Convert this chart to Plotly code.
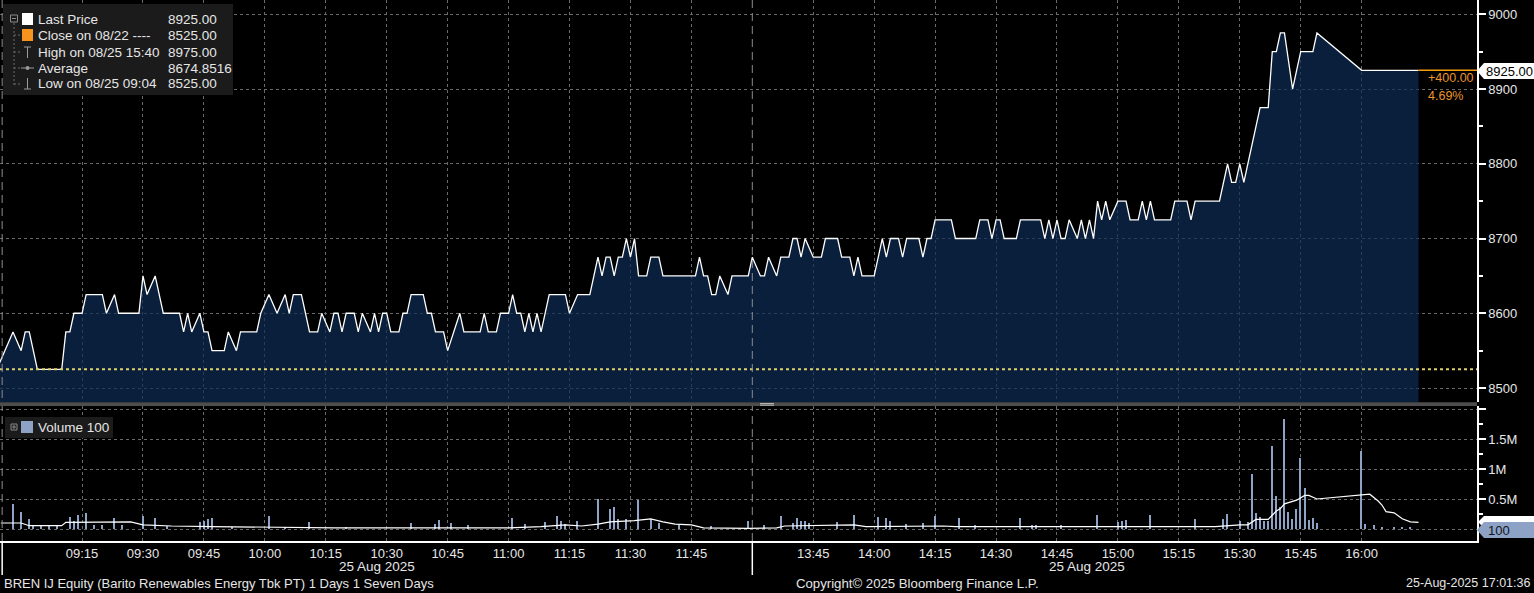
import plotly.graph_objects as go
import pandas as pd

DAY = "2025-08-25 "

# price line (minute closes) - time, price
price_times = [
    "08:54", "08:58", "09:00", "09:01", "09:02", "09:04", "09:10", "09:11", "09:12", "09:13",
    "09:15", "09:16", "09:20", "09:21", "09:23", "09:24", "09:29", "09:30", "09:31", "09:33",
    "09:35", "09:39", "09:40", "09:41", "09:42", "09:44", "09:45", "09:46", "09:47", "09:50",
    "09:51", "09:53", "09:54", "09:58", "09:59", "10:01", "10:03", "10:05", "10:06", "10:07",
    "10:09", "10:11", "10:13", "10:14", "10:16", "10:17", "10:18", "10:19", "10:20", "10:22",
    "10:23", "10:24", "10:26", "10:27", "10:28", "10:29", "10:30", "10:31", "10:33", "10:34",
    "10:35", "10:36", "10:39", "10:40", "10:41", "10:42", "10:44", "10:45", "10:48", "10:49",
    "10:53", "10:54", "10:55", "10:57", "10:58", "11:00", "11:01", "11:02", "11:03", "11:04",
    "11:05", "11:06", "11:07", "11:08", "11:10", "11:14", "11:15", "11:17", "11:20", "11:22",
    "11:23", "11:24", "11:25", "11:26", "11:27", "11:28", "11:29", "11:30", "11:31", "11:32",
    "11:34", "11:35", "11:37", "11:38", "11:46", "11:47", "11:48", "11:49", "11:50", "11:51",
    "11:52", "11:54", "11:55", "11:59",
    "13:30", "13:32", "13:33", "13:34", "13:36", "13:37", "13:39", "13:40", "13:41", "13:42",
    "13:43", "13:45", "13:47", "13:48", "13:51", "13:52", "13:54", "13:55", "13:56", "13:57",
    "14:00", "14:02", "14:03", "14:04", "14:06", "14:07", "14:08", "14:11", "14:12", "14:13",
    "14:14", "14:15", "14:19", "14:20", "14:25", "14:26", "14:28", "14:29", "14:30", "14:31",
    "14:32", "14:35", "14:36", "14:41", "14:42", "14:43", "14:44", "14:45", "14:46", "14:47",
    "14:48", "14:50", "14:51", "14:52", "14:53", "14:54", "14:55", "14:56", "14:57", "14:58",
    "15:00", "15:02", "15:03", "15:05", "15:06", "15:07", "15:08", "15:09", "15:13", "15:14",
    "15:17", "15:18", "15:19", "15:25", "15:27", "15:28", "15:29", "15:30", "15:31", "15:35",
    "15:37", "15:38", "15:39", "15:40", "15:41", "15:43", "15:45", "15:48", "15:49", "16:00",
    "16:14",
]
price_values = [
    8525, 8575, 8550, 8575, 8575, 8525, 8525, 8575, 8575, 8600,
    8600, 8625, 8625, 8600, 8625, 8600, 8600, 8650, 8625, 8650,
    8600, 8600, 8575, 8600, 8575, 8600, 8575, 8575, 8550, 8550,
    8575, 8550, 8575, 8575, 8600, 8625, 8600, 8625, 8600, 8625,
    8625, 8575, 8575, 8600, 8575, 8600, 8600, 8575, 8600, 8600,
    8575, 8600, 8575, 8600, 8575, 8600, 8600, 8575, 8575, 8600,
    8600, 8625, 8625, 8600, 8600, 8575, 8575, 8550, 8600, 8575,
    8575, 8600, 8575, 8575, 8600, 8600, 8625, 8600, 8600, 8575,
    8600, 8575, 8600, 8575, 8625, 8625, 8600, 8625, 8625, 8675,
    8650, 8675, 8675, 8650, 8675, 8675, 8700, 8675, 8700, 8650,
    8650, 8675, 8675, 8650, 8650, 8675, 8650, 8650, 8625, 8625,
    8650, 8625, 8650, 8650,
    8675, 8650, 8650, 8675, 8650, 8675, 8675, 8700, 8700, 8675,
    8700, 8675, 8675, 8700, 8700, 8675, 8675, 8650, 8675, 8650,
    8650, 8700, 8675, 8700, 8700, 8675, 8700, 8700, 8675, 8700,
    8700, 8725, 8725, 8700, 8700, 8725, 8725, 8700, 8725, 8725,
    8700, 8700, 8725, 8725, 8700, 8725, 8700, 8725, 8700, 8700,
    8725, 8700, 8725, 8700, 8725, 8700, 8750, 8725, 8750, 8725,
    8750, 8750, 8725, 8725, 8750, 8725, 8750, 8725, 8725, 8750,
    8750, 8725, 8750, 8750, 8800, 8775, 8775, 8800, 8775, 8875,
    8875, 8950, 8950, 8975, 8975, 8900, 8950, 8950, 8975, 8925,
    8925,
]

# volume bars (millions of shares)
vol_times = [
    "08:58", "09:00", "09:02", "09:03", "09:05", "09:07", "09:09", "09:12", "09:13", "09:14",
    "09:16", "09:18", "09:20", "09:23", "09:25", "09:30", "09:33", "09:36", "09:44", "09:45",
    "09:46", "09:47", "09:52", "10:01", "10:05", "10:11", "10:20", "10:36", "10:42", "10:43",
    "10:46", "10:50", "11:01", "11:04", "11:09", "11:12", "11:13", "11:14", "11:17", "11:22",
    "11:25", "11:26", "11:27", "11:29", "11:32", "11:35", "11:37", "11:42", "11:50", "11:59",
    "13:33", "13:37", "13:40", "13:41", "13:42", "13:43", "13:44", "13:51", "13:55", "14:01",
    "14:03", "14:04", "14:08", "14:12", "14:15", "14:21", "14:25", "14:36", "14:39", "14:40",
    "14:46", "14:55", "15:00", "15:01", "15:02", "15:08", "15:19", "15:26", "15:27", "15:30",
    "15:32", "15:33", "15:34", "15:35", "15:36", "15:37", "15:38", "15:39", "15:40", "15:41",
    "15:42", "15:43", "15:44", "15:45", "15:46", "15:47", "15:48", "15:49", "16:00", "16:01",
    "16:03", "16:05", "16:08", "16:10", "16:12",
]
vol_values = [
    0.41, 0.28, 0.17, 0.07, 0.06, 0.06, 0.06, 0.20, 0.14, 0.23,
    0.26, 0.07, 0.07, 0.19, 0.06, 0.22, 0.18, 0.05, 0.12, 0.14,
    0.17, 0.18, 0.04, 0.21, 0.04, 0.12, 0.03, 0.10, 0.08, 0.15,
    0.10, 0.06, 0.19, 0.09, 0.11, 0.22, 0.13, 0.09, 0.13, 0.50,
    0.33, 0.37, 0.17, 0.17, 0.49, 0.17, 0.10, 0.06, 0.05, 0.14,
    0.07, 0.22, 0.10, 0.18, 0.14, 0.14, 0.10, 0.12, 0.23, 0.20,
    0.19, 0.13, 0.09, 0.10, 0.21, 0.19, 0.07, 0.18, 0.07, 0.07,
    0.07, 0.23, 0.12, 0.13, 0.15, 0.23, 0.17, 0.17, 0.25, 0.14,
    0.12, 0.92, 0.27, 0.20, 0.13, 0.13, 1.38, 0.55, 0.36, 1.84,
    0.29, 0.17, 0.34, 1.18, 0.68, 0.15, 0.19, 0.10, 1.30, 0.09,
    0.07, 0.04, 0.02, 0.02, 0.02,
]

# volume average line (millions)
avg_times = [
    "08:55", "09:00", "09:02", "09:10", "09:11", "09:15", "09:17", "09:27", "09:30", "09:37",
    "09:47", "10:00", "10:17", "11:00", "11:08", "11:14", "11:18", "11:22", "11:25", "11:31",
    "11:35", "11:38", "11:41", "11:45", "11:48", "11:59", "13:36", "13:38", "13:50", "13:55",
    "13:58", "14:11", "14:17", "14:20", "15:24", "15:30", "15:32", "15:34", "15:37", "15:39",
    "15:40", "15:41", "15:44", "15:46", "15:47", "15:49", "16:02", "16:04", "16:05", "16:06",
    "16:08", "16:10", "16:12", "16:14",
]
avg_values = [
    0.10, 0.10, 0.055, 0.055, 0.11, 0.11, 0.12, 0.12, 0.07, 0.05,
    0.04, 0.03, 0.02, 0.02, 0.04, 0.07, 0.05, 0.08, 0.12, 0.14,
    0.17, 0.12, 0.08, 0.07, 0.02, 0.01, 0.02, 0.05, 0.07, 0.07,
    0.04, 0.05, 0.05, 0.04, 0.04, 0.07, 0.07, 0.16, 0.16, 0.30,
    0.34, 0.42, 0.48, 0.56, 0.56, 0.50, 0.58, 0.47, 0.40, 0.29,
    0.27, 0.17, 0.12, 0.11,
]

tick_labels = [
    "09:15", "09:30", "09:45", "10:00", "10:15", "10:30", "10:45", "11:00", "11:15", "11:30",
    "11:45", "13:45", "14:00", "14:15", "14:30", "14:45", "15:00", "15:15", "15:30", "15:45",
    "16:00",
]
session_starts = ["08:55:20", "13:30"]

last_price = 8925.00
prev_close = 8525.00
high_price = 8975.00
avg_price = "8674.8516"
low_price = 8525.00
net_change = "+400.00"
pct_change = "4.69%"
last_volume = "100"


def ts(t):
    return pd.to_datetime(DAY + t)


# pixel helpers for the plot area (0..1477 x 0..541)
PW, PH = 1477.0, 541.0


def fx(p):
    return p / PW


def fy(p):
    return (PH - p) / PH


FONT = "Liberation Sans, Arial, sans-serif"
TXT = "#e6e6e6"
GRID = "#6a6a6a"

fig = go.Figure()

fig.add_trace(go.Scatter(
    x=[ts(t) for t in price_times], y=price_values,
    mode="lines", line=dict(color="white", width=1.3),
    fill="tozeroy", fillcolor="rgba(13,44,86,0.7)",
    xaxis="x", yaxis="y", hoverinfo="skip",
))
fig.add_trace(go.Bar(
    x=[ts(t) for t in vol_times], y=[v * 1e6 for v in vol_values],
    marker=dict(color="#8ea2c6", line=dict(width=0)), width=22000,
    xaxis="x", yaxis="y2", hoverinfo="skip",
))
fig.add_trace(go.Scatter(
    x=[ts(t) for t in avg_times], y=[v * 1e6 for v in avg_values],
    mode="lines", line=dict(color="white", width=1.2),
    xaxis="x", yaxis="y2", hoverinfo="skip",
))

shapes = []
ann = []

# previous close dotted line
shapes.append(dict(type="line", xref="paper", yref="y", x0=0, x1=1, y0=prev_close, y1=prev_close,
                   line=dict(color="#dccf6c", width=2, dash="dot")))
# last price extension line
shapes.append(dict(type="line", xref="x", yref="y", x0=ts(price_times[-1]), x1=ts("16:28:24"),
                   y0=last_price, y1=last_price, line=dict(color="#f39c12", width=1.5)))
# session boundary markers
for s in session_starts:
    shapes.append(dict(type="line", xref="x", yref="paper", x0=ts(s), x1=ts(s), y0=0, y1=1,
                       line=dict(color="#8c8c8c", width=1, dash="8px,5px")))
    shapes.append(dict(type="line", xref="x", yref="paper", x0=ts(s), x1=ts(s), y0=fy(541), y1=fy(575),
                       line=dict(color="white", width=1.5)))
# panel separator
shapes.append(dict(type="rect", xref="paper", yref="paper", x0=0, x1=1, y0=fy(406), y1=fy(402.3),
                   fillcolor="#4d4d4d", line=dict(width=0)))
for yy in (403.6, 405.2):
    shapes.append(dict(type="line", xref="paper", yref="paper", x0=fx(760), x1=fx(774), y0=fy(yy), y1=fy(yy),
                       line=dict(color="#bdbdbd", width=1)))

# price legend box
shapes.append(dict(type="rect", xref="paper", yref="paper", x0=fx(3), x1=fx(233), y0=fy(95), y1=fy(4),
                   fillcolor="#1b1b1b", line=dict(width=0)))
shapes.append(dict(type="rect", xref="paper", yref="paper", x0=fx(10.5), x1=fx(17.5), y0=fy(22), y1=fy(15),
                   line=dict(color="#8a8a8a", width=1)))
shapes.append(dict(type="line", xref="paper", yref="paper", x0=fx(12), x1=fx(16), y0=fy(18.5), y1=fy(18.5),
                   line=dict(color="#8a8a8a", width=1)))
shapes.append(dict(type="line", xref="paper", yref="paper", x0=fx(14), x1=fx(14), y0=fy(23), y1=fy(85),
                   line=dict(color="#6a6a6a", width=1, dash="2px,2px")))
rows = [19, 35, 52, 68, 84]
for r in rows[1:]:
    shapes.append(dict(type="line", xref="paper", yref="paper", x0=fx(14), x1=fx(20), y0=fy(r), y1=fy(r),
                       line=dict(color="#6a6a6a", width=1, dash="2px,2px")))
shapes.append(dict(type="rect", xref="paper", yref="paper", x0=fx(22), x1=fx(33), y0=fy(25), y1=fy(13),
                   fillcolor="white", line=dict(width=0)))
shapes.append(dict(type="rect", xref="paper", yref="paper", x0=fx(22), x1=fx(33), y0=fy(41), y1=fy(29),
                   fillcolor="#f7941d", line=dict(width=0)))
# high glyph
shapes.append(dict(type="line", xref="paper", yref="paper", x0=fx(27.5), x1=fx(27.5), y0=fy(47), y1=fy(58),
                   line=dict(color="#9a9a9a", width=1)))
shapes.append(dict(type="line", xref="paper", yref="paper", x0=fx(24), x1=fx(31), y0=fy(47), y1=fy(47),
                   line=dict(color="#9a9a9a", width=1)))
# average glyph
shapes.append(dict(type="line", xref="paper", yref="paper", x0=fx(21), x1=fx(34), y0=fy(68), y1=fy(68),
                   line=dict(color="#9a9a9a", width=1)))
shapes.append(dict(type="circle", xref="paper", yref="paper", x0=fx(25.5), x1=fx(29.5), y0=fy(70), y1=fy(66),
                   fillcolor="#9a9a9a", line=dict(width=0)))
# low glyph
shapes.append(dict(type="line", xref="paper", yref="paper", x0=fx(27.5), x1=fx(27.5), y0=fy(78), y1=fy(89),
                   line=dict(color="#9a9a9a", width=1)))
shapes.append(dict(type="line", xref="paper", yref="paper", x0=fx(24), x1=fx(31), y0=fy(89), y1=fy(89),
                   line=dict(color="#9a9a9a", width=1)))

legend_rows = [
    ("Last Price", f"{last_price:.2f}"),
    ("Close on 08/22 ----", f"{prev_close:.2f}"),
    ("High on 08/25 15:40", f"{high_price:.2f}"),
    ("Average", avg_price),
    ("Low on 08/25 09:04", f"{low_price:.2f}"),
]
for (lab, val), r in zip(legend_rows, rows):
    ann.append(dict(text=lab, x=fx(36), y=fy(r), xanchor="left", yanchor="middle"))
    ann.append(dict(text=val, x=fx(166), y=fy(r), xanchor="left", yanchor="middle"))

# volume legend box
shapes.append(dict(type="rect", xref="paper", yref="paper", x0=fx(5), x1=fx(113), y0=fy(438), y1=fy(417),
                   fillcolor="#1b1b1b", line=dict(width=0)))
shapes.append(dict(type="rect", xref="paper", yref="paper", x0=fx(11), x1=fx(17), y0=fy(430), y1=fy(424),
                   line=dict(color="#8a8a8a", width=1)))
shapes.append(dict(type="line", xref="paper", yref="paper", x0=fx(12), x1=fx(16), y0=fy(427), y1=fy(427),
                   line=dict(color="#8a8a8a", width=1)))
shapes.append(dict(type="line", xref="paper", yref="paper", x0=fx(14), x1=fx(14), y0=fy(425), y1=fy(429),
                   line=dict(color="#8a8a8a", width=1)))
shapes.append(dict(type="rect", xref="paper", yref="paper", x0=fx(21), x1=fx(33), y0=fy(433), y1=fy(421),
                   fillcolor="#8ea2c6", line=dict(width=0)))
ann.append(dict(text=f"Volume {last_volume}", x=fx(36), y=fy(427), xanchor="left", yanchor="middle"))

# right side value tags
shapes.append(dict(type="path", xref="paper", yref="paper",
                   path=f"M {fx(1477)} {fy(71)} L {fx(1484)} {fy(63)} L {fx(1540)} {fy(63)} "
                        f"L {fx(1540)} {fy(79)} L {fx(1484)} {fy(79)} Z",
                   fillcolor="white", line=dict(width=0)))
ann.append(dict(text=f"{last_price:.2f}", x=fx(1484), y=fy(71.5), xanchor="left", yanchor="middle",
                font=dict(color="black", size=13, family=FONT)))
ann.append(dict(text=net_change, x=fx(1426), y=fy(78.5), xanchor="left", yanchor="middle",
                font=dict(color="#ea942c", size=12.5, family=FONT)))
ann.append(dict(text=pct_change, x=fx(1426), y=fy(95.5), xanchor="left", yanchor="middle",
                font=dict(color="#ea942c", size=12.5, family=FONT)))
shapes.append(dict(type="path", xref="paper", yref="paper",
                   path=f"M {fx(1478)} {fy(522)} L {fx(1484)} {fy(516)} L {fx(1540)} {fy(516)} "
                        f"L {fx(1540)} {fy(528)} L {fx(1484)} {fy(528)} Z",
                   fillcolor="white", line=dict(width=0)))
shapes.append(dict(type="path", xref="paper", yref="paper",
                   path=f"M {fx(1477)} {fy(530)} L {fx(1484)} {fy(522)} L {fx(1540)} {fy(522)} "
                        f"L {fx(1540)} {fy(538)} L {fx(1484)} {fy(538)} Z",
                   fillcolor="#8ea2c6", line=dict(width=0)))
ann.append(dict(text=last_volume, x=fx(1486), y=fy(530.5), xanchor="left", yanchor="middle",
                font=dict(color="#10151f", size=13, family=FONT)))

# date labels under sessions and footer
ann.append(dict(text="25 Aug 2025", x=fx(377), y=fy(566), xanchor="center", yanchor="middle"))
ann.append(dict(text="25 Aug 2025", x=fx(1087), y=fy(566), xanchor="center", yanchor="middle"))
ann.append(dict(text="BREN IJ Equity (Barito Renewables Energy Tbk PT) 1 Days 1 Seven Days",
                x=fx(2), y=fy(583), xanchor="left", yanchor="middle", font=dict(size=13, color=TXT, family=FONT)))
ann.append(dict(text="Copyright\u00a9 2025 Bloomberg Finance L.P.", x=fx(917), y=fy(583),
                xanchor="center", yanchor="middle", font=dict(size=13.2, color=TXT, family=FONT)))
ann.append(dict(text="25-Aug-2025 17:01:36", x=fx(1532), y=fy(583), xanchor="right", yanchor="middle",
                font=dict(size=12.5, color=TXT, family=FONT)))

for a in ann:
    a.setdefault("xref", "paper")
    a.setdefault("yref", "paper")
    a.setdefault("showarrow", False)
    a.setdefault("font", dict(size=13.5, color=TXT, family=FONT))

fig.update_layout(
    width=1534, height=593,
    paper_bgcolor="black", plot_bgcolor="black",
    margin=dict(l=0, r=57, t=0, b=52),
    showlegend=False, hovermode=False, bargap=0,
    font=dict(family=FONT, size=13, color=TXT),
    xaxis=dict(
        type="date", anchor="y2",
        range=[ts("08:54:48"), ts("16:28:24")],
        rangebreaks=[dict(bounds=[12, 13.5], pattern="hour")],
        tickmode="array", tickvals=[ts(t) for t in tick_labels], ticktext=tick_labels,
        showgrid=True, gridcolor=GRID, griddash="dot", gridwidth=1,
        showline=True, linecolor="white", linewidth=1.5,
        ticks="", zeroline=False,
        tickfont=dict(size=13, color=TXT, family=FONT),
    ),
    yaxis=dict(
        domain=[fy(402.3), 1], range=[8480.9, 9019.1], side="right", anchor="x",
        tickmode="linear", tick0=8500, dtick=100,
        showgrid=True, gridcolor=GRID, griddash="dot", gridwidth=1,
        showline=True, linecolor="white", linewidth=1.5,
        ticks="outside", ticklen=7, tickwidth=2, tickcolor="white",
        minor=dict(dtick=50, tick0=8500, ticks="outside", ticklen=4, tickcolor="white", showgrid=False),
        zeroline=False, tickfont=dict(size=13, color=TXT, family=FONT),
    ),
    yaxis2=dict(
        domain=[0, fy(406)], range=[-0.2e6, 2.05e6], side="right", anchor="x",
        tickmode="array", tickvals=[0, 0.5e6, 1e6, 1.5e6, 2e6], ticktext=["", "0.5M", "1M", "1.5M", ""],
        showgrid=True, gridcolor=GRID, griddash="dot", gridwidth=1,
        showline=True, linecolor="white", linewidth=1.5,
        ticks="outside", ticklen=7, tickwidth=2, tickcolor="white",
        minor=dict(dtick=0.25e6, tick0=0, ticks="outside", ticklen=4, tickcolor="white", showgrid=False),
        zeroline=False, tickfont=dict(size=13, color=TXT, family=FONT),
    ),
    shapes=shapes,
    annotations=ann,
)

# the page body has a default 8px margin; remove it so the figure fills the window
fig.write_html(
    "out.html",
    config={"displayModeBar": False},
    post_script="document.body.style.margin='0';document.body.style.background='black';",
)
